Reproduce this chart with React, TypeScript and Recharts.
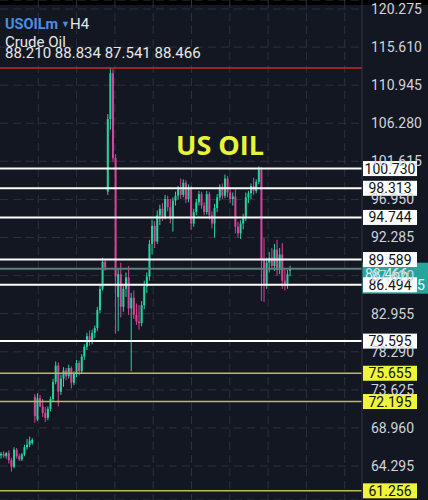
import React from 'react';
import { ComposedChart, Bar, XAxis, YAxis, CartesianGrid, ReferenceLine } from 'recharts';

// H4 candles, oldest first
const opens = [
  65.6, 65.8, 65.5, 65.9, 65.0, 64.2, 66.3, 65.5, 65.1, 65.7, 66.6, 66.9, 67.1,
  72.8, 70.0, 72.6, 71.6, 70.8, 70.2, 71.3, 72.5, 74.6, 76.6, 73.4, 75.0, 76.0,
  75.3, 76.3, 74.5, 75.6, 76.9, 75.9, 77.7, 78.9, 80.2, 79.5, 80.6, 81.2, 83.4,
  86.0, 89.3, 97.9, 106.8, 112.4, 102.0, 85.0, 87.8, 83.8, 86.0, 87.4, 83.6, 84.9,
  82.8, 82.0, 81.8, 84.0, 86.3, 87.5, 91.5, 93.7, 91.8, 95.0, 95.8, 94.8, 97.0,
  96.0, 94.6, 96.8, 97.4, 98.2, 97.5, 99.0, 97.0, 98.3, 94.0, 95.4, 96.6, 97.6,
  96.2, 95.4, 97.6, 95.0, 94.0, 95.9, 97.2, 98.5, 97.4, 99.5, 97.8, 97.0, 97.3,
  93.6, 92.8, 94.0, 94.8, 97.2, 97.7, 98.6, 98.0, 99.1, 100.6, 89.6, 86.6, 89.2,
  89.8, 88.8, 90.8, 88.3, 90.2, 87.0, 86.4, 88.21,
];
const highs = [
  66.0, 66.1, 66.0, 66.2, 65.3, 66.6, 66.5, 65.8, 65.9, 66.9, 67.6, 67.9, 67.7,
  73.1, 73.2, 73.0, 72.5, 71.5, 71.6, 72.8, 75.0, 77.1, 77.0, 75.5, 76.4, 76.3,
  76.7, 76.5, 75.9, 77.3, 77.2, 78.0, 79.2, 80.6, 80.9, 81.0, 81.5, 83.8, 86.4,
  89.8, 89.6, 107.4, 113.1, 112.9, 102.5, 88.5, 89.2, 86.5, 88.0, 88.8, 85.5, 85.8,
  84.2, 84.0, 84.5, 87.0, 88.0, 92.0, 94.5, 94.3, 95.6, 96.3, 96.5, 97.5, 97.4,
  97.0, 97.2, 97.9, 98.6, 99.5, 99.4, 99.3, 98.8, 98.6, 95.8, 97.0, 98.0, 97.9,
  96.6, 98.0, 97.9, 95.5, 96.4, 97.6, 98.8, 98.9, 100.0, 99.8, 98.5, 97.8, 98.2,
  94.2, 94.4, 95.2, 97.8, 98.0, 98.9, 99.6, 99.4, 101.0, 100.9, 92.2, 89.8, 90.5,
  91.0, 91.5, 92.0, 91.0, 91.6, 88.5, 88.3, 88.834,
];
const lows = [
  65.2, 65.3, 65.2, 64.6, 63.6, 64.0, 65.2, 64.9, 64.9, 65.5, 66.3, 66.6, 66.9,
  69.6, 69.8, 71.5, 70.3, 69.7, 69.9, 71.0, 72.2, 74.3, 71.6, 73.0, 74.0, 74.8,
  75.0, 73.8, 74.2, 75.2, 75.4, 75.6, 77.3, 78.5, 79.0, 79.2, 80.0, 80.8, 83.0,
  85.8, 88.2, 97.5, 105.5, 101.5, 80.5, 80.8, 82.5, 83.2, 85.0, 82.8, 75.9, 82.3,
  81.6, 81.0, 81.4, 83.5, 85.5, 87.0, 90.2, 91.0, 91.5, 93.8, 94.3, 94.5, 95.5,
  94.0, 93.0, 96.2, 96.9, 97.0, 97.2, 96.5, 96.6, 93.2, 93.6, 95.0, 96.2, 95.8,
  95.0, 95.1, 94.5, 93.4, 92.3, 95.4, 96.8, 97.0, 97.1, 97.2, 96.5, 96.2, 92.8,
  92.3, 92.1, 93.3, 94.3, 96.5, 97.0, 97.5, 97.7, 98.8, 84.5, 84.4, 86.0, 88.0,
  88.4, 88.2, 87.6, 87.8, 86.0, 85.8, 86.0, 87.541,
];
const closes = [
  65.8, 65.5, 65.9, 65.0, 64.2, 66.3, 65.5, 65.1, 65.7, 66.6, 66.9, 67.4, 67.5,
  70.4, 72.6, 71.6, 70.8, 70.2, 71.3, 72.5, 74.6, 76.6, 73.4, 75.0, 76.0, 75.3,
  76.3, 74.5, 75.6, 76.9, 75.9, 77.7, 78.9, 80.2, 79.5, 80.6, 81.2, 83.4, 86.0,
  89.3, 88.6, 106.8, 112.4, 102.0, 87.5, 87.8, 83.8, 86.0, 87.4, 83.6, 84.9, 82.8,
  82.0, 81.8, 84.0, 86.3, 87.5, 91.5, 93.7, 91.8, 95.0, 95.8, 94.8, 97.0, 96.0,
  94.6, 96.8, 97.4, 98.2, 97.5, 99.0, 97.0, 98.3, 94.0, 95.4, 96.6, 97.6, 96.2,
  95.4, 97.6, 95.0, 94.0, 95.9, 97.2, 98.5, 97.4, 99.5, 97.8, 97.0, 97.3, 93.6,
  92.8, 94.0, 94.8, 97.2, 97.7, 98.6, 98.0, 99.1, 100.6, 89.6, 86.6, 89.2, 89.8,
  88.8, 90.8, 88.3, 90.2, 87.0, 86.4, 87.8, 88.466,
];

// empty slots to the right of the last candle
const SLOTS = 139;

const priceTicks = [
  120.275, 115.61, 110.945, 106.28, 101.615, 96.95, 92.285, 87.62, 82.955,
  78.29, 73.625, 68.96, 64.295,
];
const whiteLevels = [100.73, 98.313, 94.744, 89.589, 86.494, 79.595];
const yellowLevels = [75.655, 72.195, 61.256];
const redLevel = 113.05;
const lastPrice = 88.466;
const ohlcText = ['88.210', '88.834', '87.541', '88.466'];

const BG = '#131722';
const UP = '#27d39c';
const DOWN = '#d9439a';
const FONT = 'Roboto, sans-serif';

const data = Array.from({ length: SLOTS }, (_, i) => ({
  i,
  o: opens[i] ?? null,
  h: highs[i] ?? null,
  l: lows[i] ?? null,
  c: closes[i] ?? null,
}));

const Candle = (props: any) => {
  const { x, y, width, height, payload } = props;
  if (payload == null || payload.o == null || !height) return null;
  const { o, h, l, c } = payload;
  const k = height / (h - l);
  const yo = y + (h - o) * k;
  const yc = y + (h - c) * k;
  const cx = x + width / 2;
  const color = c >= o ? UP : DOWN;
  return (
    <g>
      <line x1={cx} x2={cx} y1={y} y2={y + height} stroke={color} strokeWidth={1} />
      <rect
        x={cx - 1}
        y={Math.min(yo, yc)}
        width={2}
        height={Math.max(1, Math.abs(yc - yo))}
        fill={color}
      />
    </g>
  );
};

const tag = (text: string, fill: string) => (props: any) => {
  const vb = props.viewBox;
  if (!vb) return null;
  const x = vb.x + vb.width + 1;
  return (
    <g>
      <rect x={x} y={vb.y - 7.5} width={54} height={15} fill={fill} />
      <text x={x + 27} y={vb.y + 5} textAnchor="middle" fontFamily={FONT} fontSize={14} fill="#111">
        {text}
      </text>
    </g>
  );
};

const lastTag = (props: any) => {
  const vb = props.viewBox;
  if (!vb) return null;
  const x = vb.x + vb.width;
  return (
    <g>
      <rect x={x} y={vb.y - 6} width={66} height={31} fill="#26a69a" />
      <text x={x + 3} y={vb.y + 10} fontFamily={FONT} fontSize={14} fill="#d8efec">
        {lastPrice.toFixed(3)}
      </text>
      <text x={x + 63} y={vb.y + 21} textAnchor="end" fontFamily={FONT} fontSize={14} fill="#fff">
        01:25
      </text>
    </g>
  );
};

export default function App() {
  return (
    <div style={{ position: 'absolute', left: 0, top: 0, width: 428, height: 500, background: BG }}>
      <div style={{ position: 'absolute', left: 0, top: 0, width: 428, height: 5, background: '#000' }} />
      <div style={{ position: 'absolute', left: 0, top: 0 }}>
        <ComposedChart
          width={428}
          height={500}
          data={data}
          margin={{ top: 0, right: 0, left: 0, bottom: 0 }}
          barCategoryGap={0}
        >
          <CartesianGrid
            stroke="#2c313c"
            strokeDasharray="8 5"
            verticalCoordinatesGenerator={() => [38.3, 76.6, 114.9, 153.2, 191.5, 229.8, 268.1, 306.4, 344.7]}
          />
          <XAxis dataKey="i" hide />
          <YAxis
            orientation="right"
            width={66}
            domain={[60.133, 121.377]}
            ticks={priceTicks}
            interval={0}
            tickFormatter={(v: number) => v.toFixed(3)}
            tick={{ fill: '#d1d4dc', fontSize: 14, fontFamily: FONT }}
            tickLine={false}
            axisLine={{ stroke: '#2f3440' }}
            tickMargin={3}
            allowDataOverflow
          />
          <ReferenceLine y={redLevel} stroke="#c9282d" strokeWidth={1.5} />
          {yellowLevels.map((v) => (
            <ReferenceLine key={v} y={v} stroke="#b9bd55" strokeWidth={1.5} label={tag(v.toFixed(3), '#eef53a')} />
          ))}
          <ReferenceLine y={lastPrice} stroke="#5f7f7b" strokeWidth={2} label={lastTag} />
          {whiteLevels.map((v) => (
            <ReferenceLine key={v} y={v} stroke="#ffffff" strokeWidth={2} label={tag(v.toFixed(3), '#ffffff')} />
          ))}
          <Bar
            dataKey={(d: any) => (d.o == null ? null : [d.l, d.h])}
            shape={<Candle />}
            barSize={2}
            isAnimationActive={false}
          />
        </ComposedChart>
      </div>
      <svg width={428} height={500} style={{ position: 'absolute', left: 0, top: 0, pointerEvents: 'none' }}>
        <text x={5} y={29} fontFamily={FONT} fontWeight="bold" fontSize={14.5} fill="#4a8fe2">
          USOILm
        </text>
        <text x={61} y={27} fontFamily={FONT} fontSize={9} fill="#4a8fe2">
          ▼
        </text>
        <text x={70} y={29} fontFamily={FONT} fontSize={15} fill="#e8e8e8">
          H4
        </text>
        <text x={5} y={47} fontFamily={FONT} fontSize={15} fill="#e8e8e8">
          Crude Oil
        </text>
        <text x={5} y={58} fontFamily={FONT} fontSize={15} fill="#e8e8e8">
          {ohlcText.join(' ')}
        </text>
        <text x={176} y={155} fontFamily="'Open Sans', sans-serif" fontWeight="bold" fontSize={27} fill="#e6f43a">
          US OIL
        </text>
      </svg>
    </div>
  );
}
